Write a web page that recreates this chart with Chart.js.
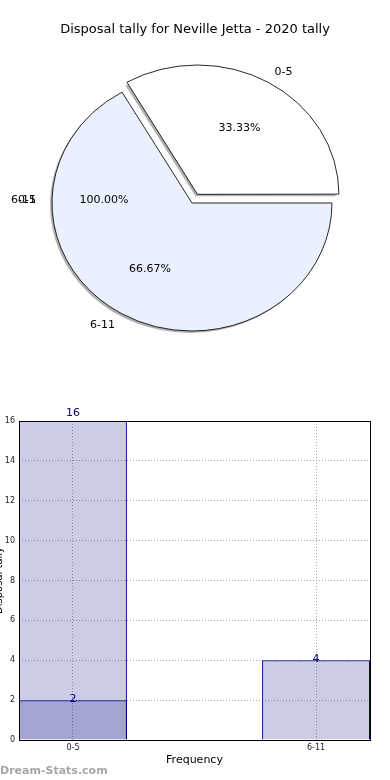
<!DOCTYPE html>
<html><head><meta charset="utf-8">
<script src="https://cdn.jsdelivr.net/npm/chart.js@4.4.1/dist/chart.umd.min.js"></script>
<style>
html,body{margin:0;padding:0;background:#fff;}
#wrap{position:relative;width:390px;height:780px;overflow:hidden;}
canvas{display:block;}
</style></head><body>
<div id="wrap">
<canvas id="pie" width="390" height="390"></canvas>
<canvas id="bar" width="390" height="390"></canvas>
</div>
<script>
// ---------- data ----------
const chartTitle = 'Disposal tally for Neville Jetta - 2020 tally';
const pieLabels = ['0-5', '6-11'];
const pieValues = [2, 4];
const pieGhostLabels = ['6-11', '0-5'];
const pieGhostPct = '100.00%';
const barCategories = ['0-5', '6-11'];
const barOuterValues = [16, 4];
const barInnerValues = [2, null];
const yTickMax = 16;
const yTickStep = 2;
const xAxisTitle = 'Frequency';
const yAxisTitle = 'Disposal tally';
const watermark = 'Dream-Stats.com';

const FONT = "'DejaVu Sans', 'Liberation Sans', sans-serif";
Chart.defaults.font.family = FONT;

// ---------- pie ----------
const PIE_SX = 140 / 128;   // ellipse horizontal stretch

function applyStretch(ctx, cx, cy) {
  ctx.translate(cx, cy);
  ctx.scale(PIE_SX, 1);
  ctx.translate(-cx, -cy);
}

const ellipsePlugin = {
  id: 'ellipse',
  beforeDatasetsDraw(chart) {
    const ctx = chart.ctx;
    const meta = chart.getDatasetMeta(0);
    const el0 = meta.data[0];
    const cx = el0.x, cy = el0.y;
    // shadow
    ctx.save();
    ctx.translate(-2, 2);
    applyStretch(ctx, cx, cy);
    ctx.fillStyle = 'rgba(0,0,0,0.3)';
    meta.data.forEach(el => {
      const off = (el.options.offset || 0) / 4;
      const mid = (el.startAngle + el.endAngle) / 2;
      const ox = el.x + Math.cos(mid) * off, oy = el.y + Math.sin(mid) * off;
      ctx.beginPath();
      ctx.moveTo(ox, oy);
      ctx.arc(ox, oy, el.outerRadius, el.startAngle, el.endAngle);
      ctx.closePath();
      ctx.fill();
    });
    ctx.restore();
    ctx.save();
    applyStretch(ctx, cx, cy);
  },
  afterDatasetsDraw(chart) {
    chart.ctx.restore();
  },
  afterDraw(chart) {
    const ctx = chart.ctx;
    const meta = chart.getDatasetMeta(0);
    const total = pieValues.reduce((a, b) => a + b, 0);
    ctx.save();
    ctx.fillStyle = '#000';
    ctx.textBaseline = 'middle';
    ctx.font = '13px ' + FONT;
    ctx.textAlign = 'center';
    ctx.fillText(chartTitle, 195, 30);
    ctx.font = '11px ' + FONT;
    let cx0 = 0, cy0 = 0, r = 0;
    meta.data.forEach((el, i) => {
      cx0 = el.x; cy0 = el.y; r = el.outerRadius;
      const off = (el.options.offset || 0) / 4;
      const mid = (el.startAngle + el.endAngle) / 2;
      const c = Math.cos(mid), s = Math.sin(mid);
      const pct = (pieValues[i] / total * 100).toFixed(2) + '%';
      ctx.textAlign = 'center';
      ctx.fillText(pct, el.x + PIE_SX * c * (off + 0.6 * r), el.y + s * (off + 0.6 * r));
      ctx.textAlign = c >= 0 ? 'left' : 'right';
      ctx.fillText(pieLabels[i], el.x + PIE_SX * c * (off + 1.1 * r), el.y + s * (off + 1.1 * r));
    });
    // ghost full-circle wedge labels (mid angle = 180deg), its centre sits slightly up-left
    ctx.textAlign = 'center';
    ctx.fillText(pieGhostPct, cx0 - 4 - PIE_SX * 0.6 * r, cy0 - 3);
    ctx.textAlign = 'right';
    pieGhostLabels.forEach(t => ctx.fillText(t, cx0 - 2 - PIE_SX * 1.1 * r, cy0 - 3));
    ctx.restore();
  }
};

new Chart(document.getElementById('pie'), {
  type: 'pie',
  data: {
    labels: pieLabels,
    datasets: [{
      data: pieValues,
      backgroundColor: ['#ffffff', '#eaf0fd'],
      borderColor: '#000000',
      borderWidth: 0.8,
      offset: [40, 0]
    }]
  },
  options: {
    responsive: false,
    animation: false,
    events: [],
    rotation: -30,
    radius: 128,
    layout: { padding: { left: 0, right: 6, top: 16, bottom: 0 } },
    plugins: { legend: { display: false }, tooltip: { enabled: false }, title: { display: false } }
  },
  plugins: [ellipsePlugin]
});

// ---------- bar ----------
const barPlugin = {
  id: 'barDecor',
  afterDatasetsDraw(chart) {
    const ctx = chart.ctx;
    const ys = chart.scales.y;
    ctx.save();
    ctx.fillStyle = '#000080';
    ctx.font = '11px ' + FONT;
    ctx.textAlign = 'center';
    ctx.textBaseline = 'middle';
    chart.data.datasets.forEach((ds, d) => {
      const meta = chart.getDatasetMeta(d);
      meta.data.forEach((el, i) => {
        const v = ds.data[i].y;
        const y = v >= ys.max ? chart.chartArea.top - 8 : el.y - 1;
        ctx.fillText(String(v), el.x, y);
      });
    });
    ctx.restore();
  },
  afterDraw(chart) {
    const ctx = chart.ctx;
    const a = chart.chartArea;
    ctx.save();
    ctx.strokeStyle = '#000';
    ctx.lineWidth = 1;
    const l = Math.round(a.left) + 0.5, t = Math.round(a.top) + 0.5;
    const rr = Math.round(a.right) + 0.5, b = Math.round(a.bottom) + 0.5;
    ctx.strokeRect(l, t, rr - l, b - t);
    // y axis title (clipped at left edge)
    ctx.fillStyle = '#000';
    ctx.font = '10px ' + FONT;
    ctx.textAlign = 'center';
    ctx.textBaseline = 'middle';
    ctx.translate(-1, (a.top + a.bottom) / 2);
    ctx.rotate(-Math.PI / 2);
    ctx.fillText(yAxisTitle, 0, 0);
    ctx.restore();
    // watermark
    ctx.save();
    ctx.fillStyle = '#a6a6a6';
    ctx.font = 'bold 11px ' + FONT;
    ctx.textAlign = 'left';
    ctx.textBaseline = 'middle';
    ctx.fillText(watermark, 0, 381);
    ctx.restore();
  }
};

const toPoints = arr => arr.map((v, i) => ({ x: i, y: v })).filter(p => p.y !== null);

new Chart(document.getElementById('bar'), {
  type: 'bar',
  data: {
    datasets: [
      { data: toPoints(barOuterValues), backgroundColor: 'rgba(0,0,128,0.2)', borderColor: '#000080',
        borderWidth: 1, grouped: false, barPercentage: 0.444, categoryPercentage: 1 },
      { data: toPoints(barInnerValues), backgroundColor: 'rgba(0,0,128,0.2)', borderColor: '#000080',
        borderWidth: 1, grouped: false, barPercentage: 0.444, categoryPercentage: 1 }
    ]
  },
  options: {
    responsive: false,
    animation: false,
    events: [],
    layout: { padding: { left: 0, right: 20, top: 31, bottom: 0 } },
    plugins: { legend: { display: false }, tooltip: { enabled: false } },
    scales: {
      x: {
        type: 'linear', min: -0.222, max: 1.222, offset: false,
        afterBuildTicks: s => { s.ticks = barCategories.map((c, i) => ({ value: i })); },
        afterFit: s => { s.height = 40; },
        ticks: { callback: v => barCategories[v], font: { size: 8 }, color: '#222', padding: 3, autoSkip: false, maxRotation: 0 },
        grid: { color: '#a8a8a8', drawTicks: false, lineWidth: 1, offset: false },
        border: { display: false, dash: [1, 2] },
        title: { display: true, text: xAxisTitle, font: { size: 11 }, color: '#000', padding: { top: 0, bottom: 13 } }
      },
      y: {
        min: 0, max: yTickMax,
        afterFit: s => { s.width = 19; },
        ticks: { stepSize: yTickStep, font: { size: 8 }, color: '#222', padding: 4 },
        grid: { color: '#a8a8a8', drawTicks: false, lineWidth: 1 },
        border: { display: false, dash: [1, 2] }
      }
    }
  },
  plugins: [barPlugin]
});
</script>
</body></html>
